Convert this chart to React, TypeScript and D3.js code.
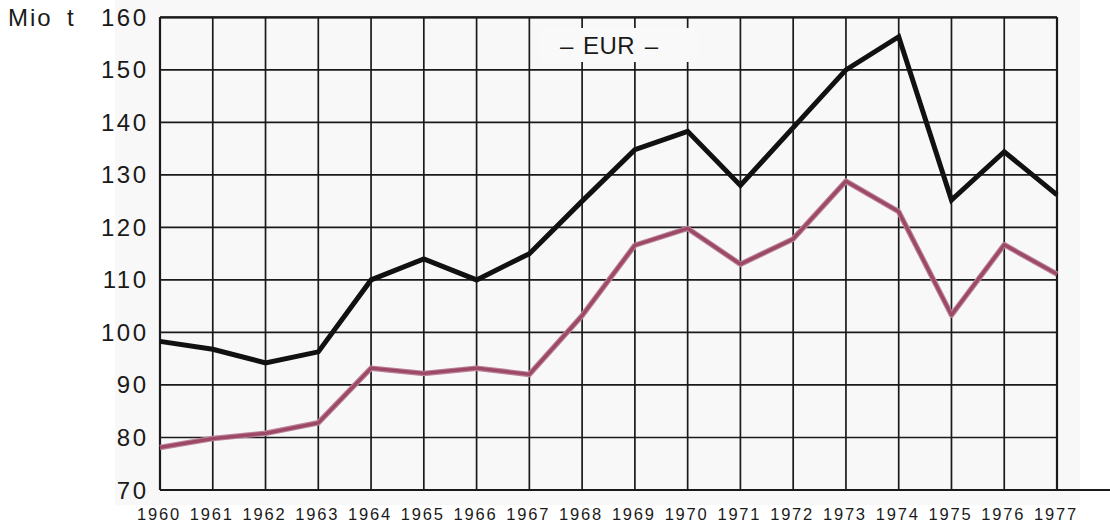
import React from "react";
import * as d3 from "d3";

const years = [1960,1961,1962,1963,1964,1965,1966,1967,1968,1969,1970,1971,1972,1973,1974,1975,1976,1977];
const totalSeries = [98.3,96.8,94.2,96.3,110,114,110,115,125,134.8,138.3,128,139,150,156.3,125.2,134.4,126.2];
const pinkSeries = [78.1,79.8,80.8,82.8,93.2,92.2,93.2,92.0,103.2,116.6,119.8,113,117.8,128.8,123,103.3,116.7,111.1];
const yTicks = [70,80,90,100,110,120,130,140,150,160];
const unitWords = ["Mio", "t"];
const titleWords = ["–", "EUR", "–"];

export default function App() {
  const W = 1110, H = 526;
  const left = 160, right = 1057, top = 17.3, bottom = 490;
  const x = d3.scaleLinear().domain([1960, 1977]).range([left, right]);
  const y = d3.scaleLinear().domain([70, 160]).range([bottom, top]);
  const line = d3.line<number>().x((_, i) => x(years[i])).y(d => y(d));
  const font = "'Liberation Sans', Arial, Helvetica, sans-serif";
  const boxX0 = x(1967.2), boxX1 = x(1970.2);
  return (
    <svg width={W} height={H} style={{ position: "absolute", left: 0, top: 0, background: "#fff" }}>
      <rect x={115} y={0} width={965} height={505} fill="#f8f8f8" />
      {yTicks.map(t => (
        <line key={"h" + t} x1={left} x2={right} y1={y(t)} y2={y(t)} stroke="#1a1a1a" strokeWidth={1.7} />
      ))}
      {years.map(yr => (
        <line key={"v" + yr} x1={x(yr)} x2={x(yr)} y1={top} y2={bottom} stroke="#1a1a1a" strokeWidth={1.7} />
      ))}
      <line x1={right} x2={right} y1={top} y2={bottom} stroke="#1a1a1a" strokeWidth={2.2} />
      <line x1={left} x2={left} y1={top} y2={bottom} stroke="#1a1a1a" strokeWidth={2.2} />
      <line x1={left} x2={W} y1={bottom} y2={bottom} stroke="#1a1a1a" strokeWidth={2.2} />
      <line x1={left} x2={right} y1={top} y2={top} stroke="#1a1a1a" strokeWidth={2.2} />
      <rect x={boxX0} y={28} width={boxX1 - boxX0} height={34} fill="#f9f9f9" />
      <text x={560} y={54} fontFamily={font} fontSize={24} fill="#1a1a1a">{titleWords[0]}</text>
      <text x={609} y={54} textAnchor="middle" fontFamily={font} fontSize={24} letterSpacing={0.5} fill="#1a1a1a">{titleWords[1]}</text>
      <text x={658} y={54} textAnchor="end" fontFamily={font} fontSize={24} fill="#1a1a1a">{titleWords[2]}</text>
      <path d={line(pinkSeries) || ""} fill="none" stroke="#bb8499" strokeWidth={5.5} strokeLinejoin="round" />
      <path d={line(pinkSeries) || ""} fill="none" stroke="#9c4866" strokeWidth={3.3} strokeLinejoin="round" />
      <path d={line(totalSeries) || ""} fill="none" stroke="#111" strokeWidth={5} strokeLinejoin="miter" />
      {yTicks.map(t => (
        <text key={"yl" + t} x={148.5} y={y(t) + 8.5} textAnchor="end" fontFamily={font} fontSize={24} letterSpacing={2.5} fill="#1a1a1a">{t}</text>
      ))}
      <text x={8} y={26} fontFamily={font} fontSize={24} letterSpacing={2} fill="#1a1a1a">{unitWords[0]}</text>
      <text x={67} y={26} fontFamily={font} fontSize={24} fill="#1a1a1a">{unitWords[1]}</text>
      {years.map(yr => (
        <text key={"xl" + yr} x={x(yr) - 23} y={520} fontFamily={font} fontSize={16.5} letterSpacing={1.8} fill="#1a1a1a">{yr}</text>
      ))}
    </svg>
  );
}
